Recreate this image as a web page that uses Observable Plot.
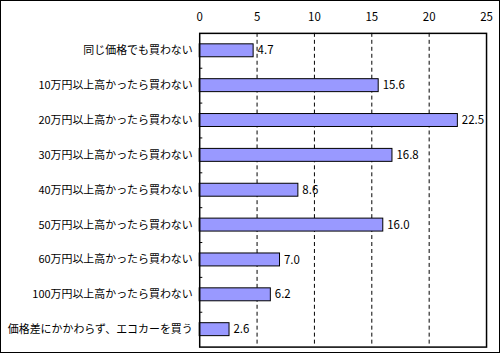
<!DOCTYPE html>
<html><head><meta charset="utf-8">
<script src="https://cdn.jsdelivr.net/npm/d3@7"></script>
<script src="https://cdn.jsdelivr.net/npm/@observablehq/plot@0.6"></script>
<style>
body{margin:0;background:#fff;}
#wrap{position:relative;width:500px;height:353px;border:1px solid #000;box-sizing:border-box;}
#wrap svg{position:absolute;top:-1px;left:-1px;}
</style></head>
<body><div id="wrap"></div>
<script>
const categories = ["同じ価格でも買わない","10万円以上高かったら買わない","20万円以上高かったら買わない","30万円以上高かったら買わない","40万円以上高かったら買わない","50万円以上高かったら買わない","60万円以上高かったら買わない","100万円以上高かったら買わない","価格差にかかわらず、エコカーを買う"];
const values = [4.7,15.6,22.5,16.8,8.6,16.0,7.0,6.2,2.6];
const xTicks = [0,5,10,15,20,25];
const gridTicks = [5,10,15,20];
const data = categories.map((c,i)=>({c, v: values[i]}));

const chart = Plot.plot({
  width: 500, height: 353,
  marginTop: 33, marginBottom: 5, marginLeft: 200, marginRight: 12,
  style: {fontFamily: "'Noto Sans CJK JP', sans-serif", fontSize: "11px", color: "#000", background: "transparent"},
  x: {domain: [0,25], axis: null},
  y: {domain: categories, axis: null, paddingInner: 0.63, paddingOuter: 0.315},
  marks: [
    Plot.ruleX(gridTicks, {stroke: "#000", strokeDasharray: "4,3", strokeWidth: 1}),
    Plot.ruleY(categories.slice(1), {y: d => d, x1: 0, x2: 0.27, dy: -17.5, stroke: "#000"}),
    Plot.barX(data, {x: "v", y: "c", fill: "#9999ff", stroke: "#000", strokeWidth: 1}),
    Plot.text(data, {x: "v", y: "c", text: d => d.v.toFixed(1), textAnchor: "start", dx: 4, fontSize: 11.5}),
    Plot.axisX(xTicks, {anchor: "top", tickSize: 0, tickPadding: 12, fontSize: 11.5, label: null}),
    Plot.axisY({anchor: "left", tickSize: 0, tickPadding: 7, fontSize: 11, label: null}),
    Plot.frame({stroke: "#000", strokeWidth: 1.5})
  ]
});
document.getElementById("wrap").appendChild(chart);
</script></body></html>
